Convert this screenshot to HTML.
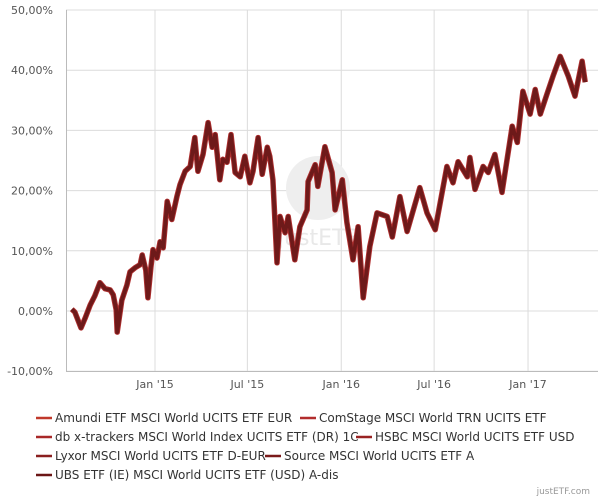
<!DOCTYPE html>
<html><head><meta charset="utf-8"><style>
body{margin:0;background:#fff;font-family:"DejaVu Sans","Liberation Sans",sans-serif;}
svg text{font-family:"DejaVu Sans","Liberation Sans",sans-serif;}
</style></head><body>
<svg width="600" height="500" viewBox="0 0 600 500">
<g id="grid"></g>
<g>
<circle cx="318" cy="188" r="32" fill="#eeeeee"/>
<text x="318" y="245" font-size="22" fill="#e8e8e8" text-anchor="middle" font-family="Liberation Serif,serif">justETF</text>
</g>
<g id="series"></g>
<g id="legend"></g>
<text x="590" y="494" font-size="9" fill="#999" text-anchor="end">justETF.com</text>
</svg>
<script>
const days=[-163,-157,-145,-137,-127,-118,-108,-98,-88,-82,-76,-74,-65,-55,-49,-39,-29,-25,-18,-14,-8,-4,4,10,16,24,33,43,49,59,69,78,84,94,104,112,118,127,133,141,149,157,167,176,186,192,202,210,220,225,231,239,245,255,261,274,284,298,300,314,319,333,347,353,367,376,388,398,408,421,435,455,465,480,494,519,533,549,572,584,594,612,617,627,643,653,666,680,700,710,721,735,745,755,768,780,794,810,823,837,843];
const values=[0.3,-0.2,-2.8,-1.2,1.0,2.5,4.7,3.7,3.5,2.7,0.2,-3.5,1.8,4.3,6.5,7.2,7.7,9.3,6.8,2.2,7.3,10.2,8.8,11.5,10.5,18.2,15.2,19.0,21.0,23.2,24.0,28.8,23.2,26.0,31.3,27.2,29.3,21.8,25.2,24.7,29.3,23.0,22.3,25.7,21.3,23.2,28.8,22.7,27.2,25.7,21.8,8.0,15.7,13.0,15.7,8.5,14.0,16.8,21.5,24.3,20.7,27.3,23.0,16.8,21.8,14.7,8.5,14.0,2.2,10.7,16.3,15.7,12.3,19.0,13.2,20.5,16.3,13.5,24.0,21.3,24.8,22.3,25.5,20.2,24.0,23.0,26.0,19.7,30.7,28.0,36.5,32.7,36.8,32.7,36.0,39.0,42.3,39.0,35.7,41.5,38.0];
const yTicks=[50,40,30,20,10,0,-10];
const xTickLabels=["Jan '15","Jul '15","Jan '16","Jul '16","Jan '17"];
const xTickDays=[0,181,365,547,731];
const legendNames=["Amundi ETF MSCI World UCITS ETF EUR","ComStage MSCI World TRN UCITS ETF","db x-trackers MSCI World Index UCITS ETF (DR) 1C","HSBC MSCI World UCITS ETF USD","Lyxor MSCI World UCITS ETF D-EUR","Source MSCI World UCITS ETF A","UBS ETF (IE) MSCI World UCITS ETF (USD) A-dis"];
const legendColors=["#c0392b","#b22d2d","#a82828","#992222","#8a1f1f","#7a1a1a","#6b1616"];
const NS="http://www.w3.org/2000/svg";
const X=d=>155+d*0.5103;
const Y=v=>311-v*6.02;
function mk(t,a,p){const e=document.createElementNS(NS,t);for(const k in a)e.setAttribute(k,a[k]);p.appendChild(e);return e;}
const g=document.getElementById('grid');
yTicks.forEach(v=>{
 const l=mk('line',{x1:66,x2:598,y1:Y(v),y2:Y(v),stroke:'#dcdcdc','stroke-width':1},g);
 
 
 const t=mk('text',{x:53,y:Y(v)+4,'font-size':11,fill:'#555','text-anchor':'end'},g);
 t.textContent=v.toFixed(2).replace('.',',')+'%';
 
 
});
xTickDays.forEach((d,i)=>{
 const l=mk('line',{x1:X(d),x2:X(d),y1:10,y2:371,stroke:'#dcdcdc','stroke-width':1},g);
 
 
 const t=mk('text',{x:X(d),y:388,'font-size':11,fill:'#555','text-anchor':'middle'},g);
 t.textContent=xTickLabels[i];
 
 
});
const ax=mk('line',{x1:66.5,x2:66.5,y1:10,y2:372,stroke:'#bbb'},g);


const bx=mk('line',{x1:66,x2:598,y1:371.5,y2:371.5,stroke:'#bbb'},g);


const s=document.getElementById('series');
const pts=days.map((d,i)=>X(d).toFixed(1)+','+Y(values[i]).toFixed(1)).join(' ');
const p1=mk('polyline',{points:pts,fill:'none',stroke:'#b03030','stroke-width':5.5,'stroke-linejoin':'round'},s);


const p2=mk('polyline',{points:pts,fill:'none',stroke:'#6e1a1a','stroke-width':3.8,'stroke-linejoin':'round'},s);


const lg=document.getElementById('legend');
const pos=[[36,422],[300,422],[36,441],[356,441],[36,460],[265,460],[36,479]];
legendNames.forEach((n,i)=>{
 const gg=mk('g',{},lg);
 
 
 mk('line',{x1:pos[i][0],x2:pos[i][0]+16,y1:pos[i][1]-4,y2:pos[i][1]-4,stroke:legendColors[i],'stroke-width':2.5},gg);
 const t=mk('text',{x:pos[i][0]+19,y:pos[i][1],'font-size':12,fill:'#333'},gg);
 t.textContent=n;
});
</script>
</body></html>
